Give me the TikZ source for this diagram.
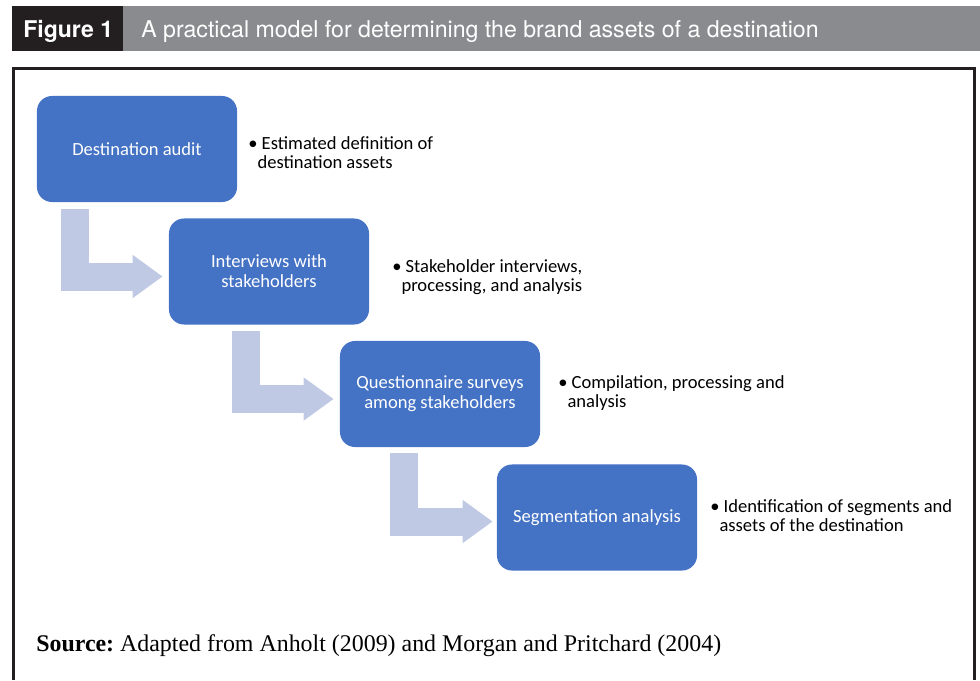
\documentclass[tikz,border=0pt]{standalone}
\usepackage{fontspec}
\setmainfont{Carlito}
\newfontfamily\headfont{TeX Gyre Heros}
\newfontfamily\sourcefont{Liberation Serif}
\usetikzlibrary{calc,arrows.meta}
\definecolor{stageblue}{HTML}{4472C4}
\definecolor{flowblue}{HTML}{BFC9E3}
\definecolor{headdark}{HTML}{231F20}
\definecolor{headgray}{HTML}{8A8B8E}
\tikzset{
	stage/.style={fill=stageblue,rounded corners=0.375cm,minimum width=5cm,minimum height=2.65cm,inner sep=0pt,text=white,align=center,font=\fontsize{13.2}{14.2}\selectfont},%
	outcome/.style={anchor=base west,inner sep=0pt,font=\fontsize{13.2}{14.2}\selectfont},%
	flowarrow/.style={draw=flowblue,line width=19.9pt,line join=miter,-{Triangle[length=21.3pt,width=29.2pt]}},%
	outerframe/.style={draw=headdark,line width=2.1pt,line join=miter},%
	headtext/.style={anchor=base west,inner sep=0pt,text=white},%
}
\def\bulletline#1#2{\begin{tabular}[t]{@{}l@{}}\textbullet\ #1\\\hspace{0.5em}#2\end{tabular}}

\begin{document}
\begin{tikzpicture}[x=0.025cm,y=-0.025cm]
		\useasboundingbox (0,0) rectangle (980,680);
		% title bar
		\fill[headdark] (12,6) rectangle (123,51);
		\fill[headgray] (123,6) rectangle (980,51);
		\node[headtext,font=\headfont\bfseries\fontsize{16.4}{19}\selectfont] (figlabel) at (23,37) {Figure 1};
		\node[headtext,font=\headfont\fontsize{16.45}{19}\selectfont] (figtitle) at (141,37) {A practical model for determining the brand assets of a destination};
		\draw[outerframe] (13.5,680) |- (974.5,68.5) -- (974.5,680);
		% stages
		\node[stage] (audit) at (137,149) {Destination audit};
		\node[stage] (interviews) at (269,271.5) {Interviews with\\stakeholders};
		\node[stage] (surveys) at (440,394) {Questionnaire surveys\\among stakeholders};
		\node[stage] (segments) at (597,517.5) {Segmentation analysis};
		\draw[flowarrow] ($(audit.south west)+(38,7)$) |- ($(interviews.west)+(-6,5)$);
		\draw[flowarrow] ($(interviews.south west)+(77,6)$) |- ($(surveys.west)+(-6,5)$);
		\draw[flowarrow] ($(surveys.south west)+(64.5,6)$) |- ($(segments.west)+(-4,4)$);
		\node[outcome] (auditout) at (248,149) {\bulletline{Estimated definition of}{destination assets}};
		\node[outcome] (interviewsout) at (392,272) {\bulletline{Stakeholder interviews,}{processing, and analysis}};
		\node[outcome] (surveysout) at (558,388) {\bulletline{Compilation, processing and}{analysis}};
		\node[outcome] (segmentsout) at (710,512) {\bulletline{Identification of segments and}{assets of the destination}};
		\node[anchor=base west,inner sep=0pt,font=\sourcefont\fontsize{17}{20}\selectfont] (source) at (36,651) {\frenchspacing\textbf{Source:} Adapted from Anholt (2009) and Morgan and Pritchard (2004)};
	\end{tikzpicture}
\end{document}
